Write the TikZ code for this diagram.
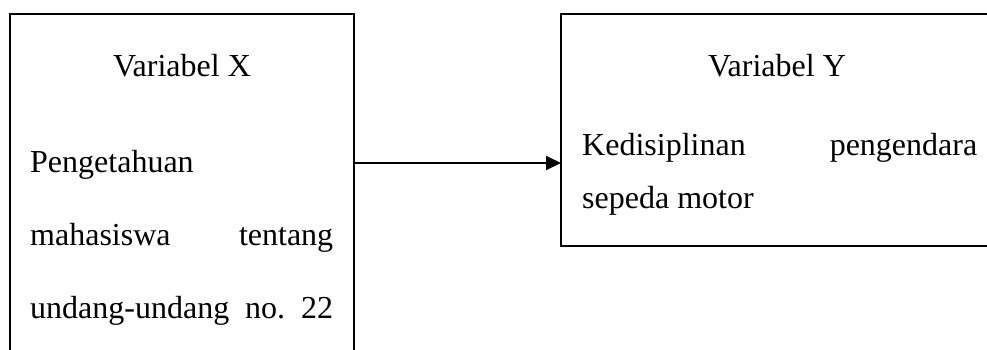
\documentclass[tikz,border=0pt]{standalone}
\usepackage{fontspec}
\setmainfont{Liberation Serif}
\usetikzlibrary{arrows.meta}
\begin{document}
\begin{tikzpicture}[x=1pt,y=-1pt,
  frame/.style={draw=black,line width=1.6pt},
  txt/.style={inner sep=0pt,font=\fontsize{32}{38}\selectfont},
  link/.style={line width=2pt,-{Triangle[length=15pt,width=14pt]}}]
\useasboundingbox (0,0) rectangle (987,349);
\begin{scope}
\clip (0,0) rectangle (987,349);
% left box runs past the lower edge, right box past the right edge
\draw[frame] (10,400) -- (10,14) -- (354,14) -- (354,400);
\draw[frame] (1040,14) -- (561,14) -- (561,246) -- (1040,246);
\end{scope}
\coordinate (X) at (354,163);
\coordinate (Y) at (561,163);
% texts of the left box
\node[txt,anchor=base] (xt) at (182,76) {Variabel X};
\node[txt,anchor=base west] (x1) at (30,172) {Pengetahuan};
\node[txt,anchor=base west] (x2) at (30,245) {\makebox[303pt][s]{mahasiswa\hfill tentang}};
\node[txt,anchor=base west] (x3) at (30,318) {\makebox[303pt][s]{undang-undang\hfill no.\hfill 22}};
% texts of the right box
\node[txt,anchor=base] (yt) at (777,76) {Variabel Y};
\node[txt,anchor=base west] (y1) at (582,155) {\makebox[395pt][s]{Kedisiplinan\hfill pengendara}};
\node[txt,anchor=base west] (y2) at (582,208) {sepeda motor};
\draw[link] (X) -- (Y);
\end{tikzpicture}
\end{document}
